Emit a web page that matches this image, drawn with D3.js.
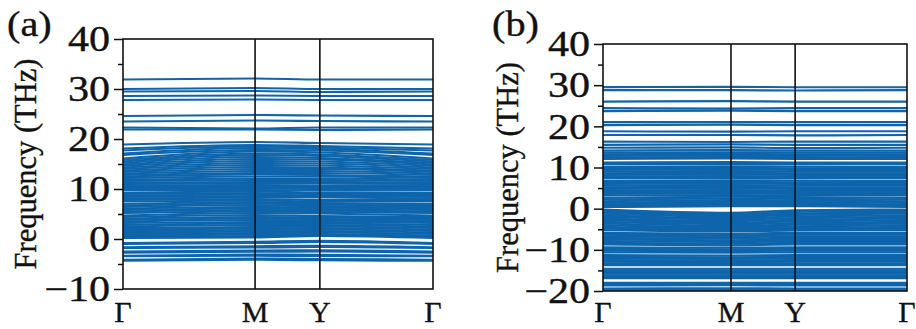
<!DOCTYPE html>
<html>
<head>
<meta charset="utf-8">
<script src="https://cdn.jsdelivr.net/npm/d3@7/dist/d3.min.js"></script>
<style>
  body { margin: 0; background: #fff; }
  svg { display: block; }
</style>
</head>
<body>
<svg id="chart" width="916" height="329"></svg>
<script>
// High-symmetry path labels and their positions along the k-path.
const kLabels = ['Γ', 'M', 'Y', 'Γ']
const kPathA = [0, 0.426, 0.635, 1]
const kPathB = [0, 0.421, 0.632, 1]

const yTicksA = [40, 30, 20, 10, 0, -10]
const yTicksB = [40, 30, 20, 10, 0, -10, -20]

// Bands: frequency (THz) at Γ, M, Y (path returns to Γ).
const bandsA = [
  [31.9, 32.1, 31.9], [30.0, 30.2, 30.0], [29.5, 29.6, 29.4], [28.6, 28.7, 28.6],
  [27.8, 27.9, 27.8], [24.6, 24.8, 24.7], [23.5, 23.7, 23.6], [22.3, 22.1, 22.3],
  [21.9, 21.9, 21.8], [18.9, 19.4, 19.2],
  [18.1, 18.8, 18.6], [17.7, 18.5, 18.3], [17.1, 18.2, 18.0], [16.8, 17.8, 17.7],
  [16.1, 17.5, 17.3], [15.8, 17.1, 16.9], [15.5, 16.8, 16.6], [15.2, 16.4, 16.2],
  [14.9, 16.0, 15.9], [14.6, 15.6, 15.5], [14.3, 15.2, 15.1], [14.0, 14.8, 14.7],
  [13.7, 14.4, 14.3], [13.4, 14.0, 14.0], [13.1, 13.6, 13.6], [12.8, 13.2, 13.2],
  [12.5, 12.9, 12.8], [12.2, 12.5, 12.5], [11.9, 12.1, 12.1], [11.6, 11.8, 11.8],
  [11.3, 11.4, 11.4], [11.0, 11.1, 11.1], [10.7, 10.8, 10.7], [10.4, 10.4, 10.4],
  [10.1, 10.1, 10.0], [9.8, 9.8, 9.7], [9.3, 9.5, 9.3], [9.0, 9.2, 9.0],
  [8.7, 8.9, 8.7], [8.4, 8.6, 8.6], [8.1, 8.3, 8.3], [7.8, 8.0, 7.8],
  [7.5, 7.7, 7.5], [7.0, 7.4, 7.2], [6.7, 7.1, 6.9], [6.4, 6.8, 6.6],
  [6.1, 6.4, 6.3], [5.8, 6.1, 6.0], [5.5, 5.8, 5.7], [5.2, 5.5, 5.4],
  [4.7, 5.2, 5.1], [4.4, 4.8, 4.6], [4.1, 4.4, 4.3], [3.8, 4.1, 4.0],
  [3.5, 3.8, 3.7], [3.2, 3.4, 3.4], [2.8, 3.1, 3.1], [2.5, 2.8, 2.8],
  [2.2, 2.4, 2.5], [1.9, 2.1, 2.2], [1.6, 1.8, 1.9], [1.3, 1.5, 1.6],
  [1.0, 1.2, 1.3], [0.7, 0.9, 1.0], [0.4, 0.6, 0.8], [0.2, 0.3, 0.6],
  [-0.8, -0.55, -0.35], [-1.0, -0.8, -0.6], [-1.65, -1.45, -1.35], [-1.8, -1.7, -1.6],
  [-2.5, -2.3, -2.25], [-2.75, -2.55, -2.5], [-3.35, -3.1, -3.15], [-3.45, -3.35, -3.4],
  [-4.15, -3.9, -4.0], [-4.35, -4.15, -4.25]
]

const bandsB = [
  [29.5, 29.6, 29.5], [28.8, 28.8, 28.7], [26.0, 26.1, 26.0], [24.4, 24.3, 24.4],
  [23.7, 23.8, 23.7], [21.0, 21.0, 21.0], [20.3, 20.4, 20.3], [18.8, 18.7, 18.8],
  [17.9, 17.9, 17.8], [16.3, 16.2, 16.3], [15.5, 15.6, 15.5], [14.8, 14.9, 14.7],
  [14.1, 14.2, 14.1],
  [13.6, 13.7, 13.6], [13.2, 13.3, 13.2], [12.8, 12.9, 12.9], [12.4, 12.5, 12.5],
  [12.1, 12.2, 12.1], [11.2, 11.3, 11.2], [10.8, 10.9, 10.8], [10.15, 10.3, 10.2],
  [9.8, 9.9, 9.8], [9.4, 9.5, 9.4], [9.0, 9.1, 9.0], [8.6, 8.7, 8.6],
  [8.2, 8.3, 8.2], [7.8, 7.9, 7.8], [7.4, 7.5, 7.4], [6.75, 6.9, 6.8],
  [6.4, 6.5, 6.4], [6.0, 6.1, 6.0], [5.6, 5.7, 5.6], [5.2, 5.3, 5.2],
  [4.8, 4.9, 4.8], [4.4, 4.5, 4.4], [4.0, 4.1, 4.0], [3.6, 3.7, 3.6],
  [3.2, 3.3, 3.2], [2.6, 2.9, 2.8], [2.2, 2.5, 2.4], [1.8, 2.1, 2.0],
  [1.4, 1.7, 1.6], [1.0, 1.4, 1.3], [0.7, 1.0, 1.0], [0.4, 0.6, 0.6],
  [-0.2, -1.0, -0.4], [-0.5, -1.3, -0.8], [-0.8, -1.6, -1.2], [-1.2, -1.9, -1.5],
  [-1.6, -2.3, -1.9], [-2.0, -2.6, -2.3], [-2.4, -3.0, -2.7], [-2.8, -3.4, -3.1],
  [-3.2, -3.7, -3.5], [-3.6, -4.1, -3.9], [-4.0, -4.5, -4.3], [-4.4, -4.8, -4.7],
  [-4.8, -5.2, -5.0], [-5.2, -5.5, -5.3], [-5.9, -6.1, -5.9], [-6.3, -6.5, -6.3],
  [-6.7, -6.9, -6.7], [-7.1, -7.3, -7.1], [-7.5, -7.7, -7.5], [-7.9, -8.1, -7.9],
  [-8.3, -8.5, -8.3], [-8.7, -8.9, -8.7], [-9.4, -9.5, -9.4], [-9.8, -9.9, -9.8],
  [-10.2, -10.3, -10.2], [-10.6, -10.7, -10.6], [-11.3, -11.4, -11.3], [-11.7, -11.8, -11.7],
  [-12.1, -12.2, -12.1], [-12.5, -12.6, -12.5], [-12.9, -13.0, -12.9], [-13.3, -13.4, -13.3],
  [-13.7, -13.7, -13.7], [-14.6, -14.6, -14.6], [-15.0, -15.0, -15.0], [-15.4, -15.4, -15.4],
  [-15.8, -15.8, -15.8], [-16.2, -16.2, -16.2], [-16.6, -16.6, -16.6], [-16.9, -16.85, -16.9],
  [-18.05, -18.0, -18.05], [-18.4, -18.35, -18.4], [-18.65, -18.6, -18.65], [-19.4, -19.35, -19.4],
  [-19.75, -19.7, -19.75], [-20.1, -20.1, -20.1]
]

const bandColor = '#0e65ab'
const serif = '"Liberation Serif", "Times New Roman", serif'
const svg = d3.select('#chart')
const defs = svg.append('defs')

function styleText(sel, size) {
  sel.attr('font-size', size)
    .style('font-family', serif)
    .attr('fill', '#111')
    .attr('stroke', '#111')
    .attr('stroke-width', 0.35)
}

function drawPanel(cfg) {
  const g = svg.append('g').attr('class', 'panel')
  const x = d3.scaleLinear().domain([0, 1]).range([cfg.left, cfg.right])
  const y = d3.scaleLinear().domain(cfg.yDomain).range([cfg.bottom, cfg.top])

  defs.append('clipPath').attr('id', 'clip-' + cfg.id)
    .append('rect')
    .attr('x', cfg.left).attr('y', cfg.top)
    .attr('width', cfg.right - cfg.left).attr('height', cfg.bottom - cfg.top)

  // Phonon bands.
  const line = d3.line()
    .x((d, i) => x(cfg.kPath[i]))
    .y(d => y(d))
    .curve(d3.curveMonotoneX)
  g.append('g')
    .attr('clip-path', `url(#clip-${cfg.id})`)
    .selectAll('path')
    .data(cfg.bands)
    .join('path')
    .attr('d', b => line([b[0], b[1], b[2], b[0]]))
    .attr('fill', 'none')
    .attr('stroke', bandColor)
    .attr('stroke-width', 2.2)

  // High-symmetry verticals.
  g.selectAll('.kline')
    .data(cfg.kPath.slice(1, -1))
    .join('line')
    .attr('x1', d => x(d)).attr('x2', d => x(d))
    .attr('y1', cfg.top).attr('y2', cfg.bottom)
    .attr('stroke', '#111').attr('stroke-width', 1.6)

  // Frame.
  g.append('rect')
    .attr('x', cfg.left).attr('y', cfg.top)
    .attr('width', cfg.right - cfg.left).attr('height', cfg.bottom - cfg.top)
    .attr('fill', 'none').attr('stroke', '#111').attr('stroke-width', 1.6)

  // Y ticks (major + minor).
  const minor = d3.range(cfg.yDomain[0] + 5, cfg.yDomain[1], 10)
  g.append('g')
    .attr('transform', `translate(${cfg.left},0)`)
    .call(d3.axisLeft(y).tickValues(cfg.yTicks).tickSize(9).tickFormat(''))
    .call(a => a.select('.domain').remove())
    .selectAll('line').attr('stroke', '#111').attr('stroke-width', 1.5)
  g.append('g')
    .attr('transform', `translate(${cfg.left},0)`)
    .call(d3.axisLeft(y).tickValues(minor).tickSize(5).tickFormat(''))
    .call(a => a.select('.domain').remove())
    .selectAll('line').attr('stroke', '#111').attr('stroke-width', 1.5)

  // Y tick labels.
  g.selectAll('.ylab')
    .data(cfg.yTicks)
    .join('text')
    .attr('class', 'ylab')
    .attr('transform', d => `translate(${cfg.left - 13},${y(d)}) scale(1.17,1)`)
    .attr('text-anchor', 'end')
    .attr('dy', '0.34em')
    .call(styleText, 36)
    .text(d3.format('d'))

  // K labels.
  g.selectAll('.klab')
    .data(kLabels)
    .join('text')
    .attr('class', 'klab')
    .attr('x', (d, i) => x(cfg.kPath[i]))
    .attr('y', 322)
    .attr('text-anchor', 'middle')
    .call(styleText, 30)
    .text(d => d)

  // Axis title.
  g.append('text')
    .attr('transform', `translate(${cfg.titleX},${(cfg.top + cfg.bottom) / 2}) rotate(-90)`)
    .attr('text-anchor', 'middle')
    .attr('dy', '0.35em')
    .call(styleText, 30.5)
    .text('Frequency (THz)')

  // Panel letter.
  g.append('text')
    .attr('transform', `translate(${cfg.letterX},36) scale(1.15,1)`)
    .call(styleText, 35)
    .text(cfg.letter)
}

drawPanel({
  id: 'a', letter: '(a)', letterX: 7, titleX: 25,
  left: 123, right: 433, top: 39, bottom: 289,
  yDomain: [-10, 40], yTicks: yTicksA, kPath: kPathA, bands: bandsA
})
drawPanel({
  id: 'b', letter: '(b)', letterX: 492, titleX: 507,
  left: 603, right: 907, top: 44, bottom: 291,
  yDomain: [-20, 40], yTicks: yTicksB, kPath: kPathB, bands: bandsB
})
</script>
</body>
</html>
